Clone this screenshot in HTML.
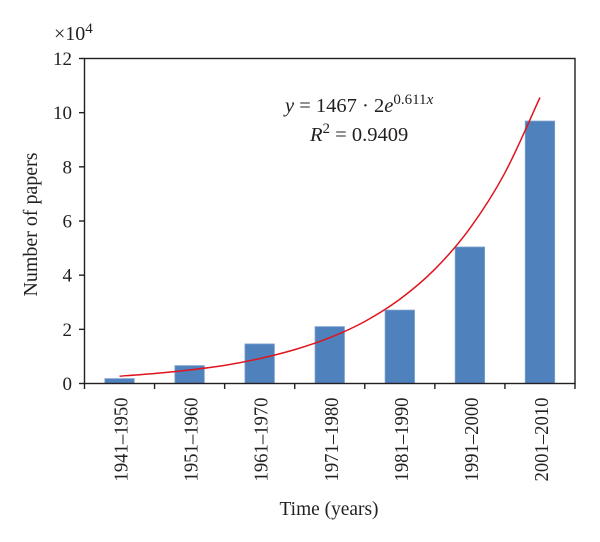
<!DOCTYPE html>
<html lang="en">
<head>
<meta charset="utf-8">
<title>Number of papers over time</title>
<style>
html,body{margin:0;padding:0;background:#fff;}
svg{display:block;}
text{font-family:"Liberation Serif",serif;fill:#231f20;}
</style>
</head>
<body>
<svg id="chart" xmlns="http://www.w3.org/2000/svg" width="600" height="542" viewBox="0 0 600 542">
  <rect x="0" y="0" width="600" height="542" fill="#fff"/>
  <g id="bars"></g>
  <path id="trend" fill="none" stroke="#e0141e" stroke-width="1.5"/>
  <g id="axes"></g>
  <text x="54" y="40" font-size="20">×10<tspan font-size="15" dy="-7">4</tspan></text>
  <text transform="translate(37,224.5) rotate(-90)" text-anchor="middle" font-size="20.5" textLength="144" lengthAdjust="spacingAndGlyphs">Number of papers</text>
  <text x="329" y="515" text-anchor="middle" font-size="20" textLength="99" lengthAdjust="spacingAndGlyphs">Time (years)</text>
  <text x="285" y="112" font-size="20.5"><tspan font-style="italic">y</tspan> = 1467 · 2<tspan font-style="italic">e</tspan><tspan font-size="15" dy="-8">0.611<tspan font-style="italic">x</tspan></tspan></text>
  <text x="310" y="141" font-size="20.5"><tspan font-style="italic">R</tspan><tspan font-size="15" dy="-8">2</tspan><tspan dy="8"> = 0.9409</tspan></text>
</svg>
<script>
const categories = ['1941–1950','1951–1960','1961–1970','1971–1980','1981–1990','1991–2000','2001–2010'];
const paperCounts = [0.18,0.66,1.46,2.1,2.71,5.04,9.69];
const yTickLabels = [0,2,4,6,8,10,12];
const trendPositions = [0,0.5,1,1.5,2,2.5,3,3.5,4,4.5,5,5.5,6];
const trendValues = [0.27,0.37,0.50,0.67,0.92,1.25,1.69,2.29,3.11,4.22,5.73,7.78,10.56];

const NS = 'http://www.w3.org/2000/svg';
const plotLeft = 84.5, plotRight = 575, plotTop = 58.5, plotBottom = 383.5;
const yMax = 12;
const bandWidth = (plotRight - plotLeft) / categories.length;
const barWidth = bandWidth * 0.42;
const xScale = i => plotLeft + bandWidth * (i + 0.5);
const yScale = v => plotBottom - (v / yMax) * (plotBottom - plotTop);

function svgEl(tag, attrs, parent) {
  const el = document.createElementNS(NS, tag);
  for (const k in attrs) el.setAttribute(k, attrs[k]);
  parent.appendChild(el);
  return el;
}

const barsGroup = document.getElementById('bars');
paperCounts.forEach((v, i) => {
  const bar = svgEl('rect', {
    x: xScale(i) - barWidth / 2,
    y: yScale(v),
    width: barWidth,
    height: plotBottom - yScale(v),
    fill: '#4f81bd',
    stroke: '#7ba0cd',
    'stroke-width': 0.8
  }, barsGroup);
  
  
});

// Smooth trendline through the points (Catmull-Rom)
const pts = trendValues.map((v, i) => [xScale(trendPositions[i]), yScale(v)]);
let d = 'M' + pts[0][0] + ' ' + pts[0][1];
for (let i = 0; i < pts.length - 1; i++) {
  const p0 = pts[Math.max(0, i - 1)], p1 = pts[i], p2 = pts[i + 1], p3 = pts[Math.min(pts.length - 1, i + 2)];
  d += ' C' + (p1[0] + (p2[0] - p0[0]) / 6) + ' ' + (p1[1] + (p2[1] - p0[1]) / 6) + ' ' +
       (p2[0] - (p3[0] - p1[0]) / 6) + ' ' + (p2[1] - (p3[1] - p1[1]) / 6) + ' ' + p2[0] + ' ' + p2[1];
}
document.getElementById('trend').setAttribute('d', d);

const axes = document.getElementById('axes');
const axisStyle = { stroke: '#231f20', 'stroke-width': 1.4, fill: 'none' };
const frame = svgEl('rect', Object.assign({
  x: plotLeft, y: plotTop, width: plotRight - plotLeft, height: plotBottom - plotTop
}, axisStyle), axes);



yTickLabels.forEach(v => {
  const y = yScale(v);
  const tick = svgEl('line', Object.assign({ x1: plotLeft - 5.5, x2: plotLeft, y1: y, y2: y }, axisStyle), axes);
  
  
  const label = svgEl('text', { x: 72, y: y + 6.5, 'text-anchor': 'end', 'font-size': 19 }, axes);
  
  
  label.textContent = v;
});

for (let i = 0; i <= categories.length; i++) {
  const x = plotLeft + bandWidth * i;
  const tick = svgEl('line', Object.assign({ x1: x, x2: x, y1: plotBottom, y2: plotBottom + 5.5 }, axisStyle), axes);
  
  
}

categories.forEach((c, i) => {
  const x = xScale(i) + 8;
  const label = svgEl('text', {
    transform: 'translate(' + x + ',481.5) rotate(-90)',
    'font-size': 20,
    textLength: 84,
    lengthAdjust: 'spacingAndGlyphs'
  }, axes);
  
  
  label.textContent = c;
});
</script>
</body>
</html>
